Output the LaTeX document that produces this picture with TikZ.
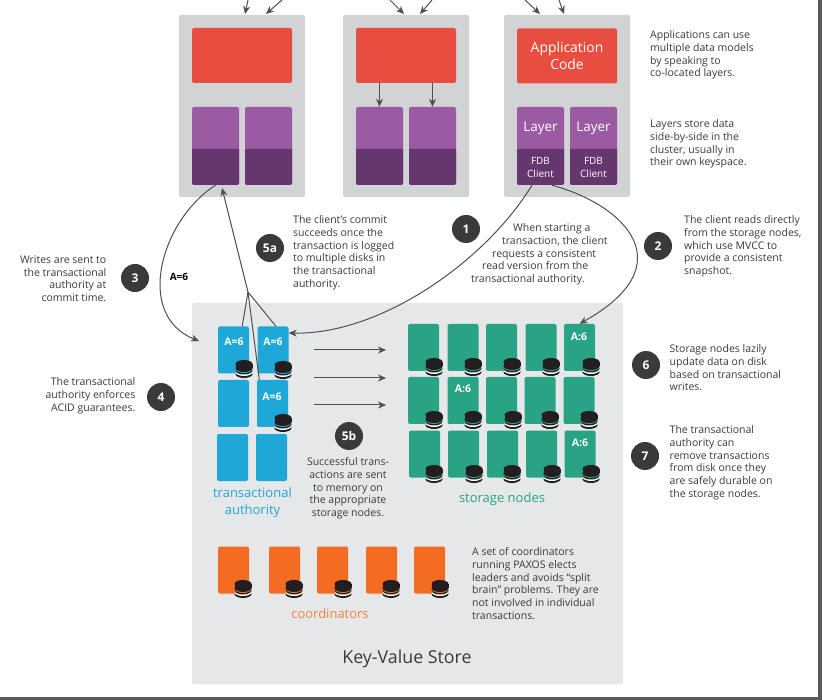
\documentclass[tikz,border=0pt]{standalone}
\usepackage{fontspec}
\setmainfont{Open Sans}
\usetikzlibrary{arrows.meta}
\definecolor{panelgray}{HTML}{D1D3D4}
\definecolor{storegray}{HTML}{E6E7E8}
\definecolor{appred}{HTML}{E84E40}
\definecolor{layerpurple}{HTML}{9A5BA3}
\definecolor{clientpurple}{HTML}{66376E}
\definecolor{authblue}{HTML}{1FA7D8}
\definecolor{storagegreen}{HTML}{28A386}
\definecolor{coordorange}{HTML}{F36C21}
\definecolor{inkgray}{HTML}{3A3A3C}
\definecolor{wiregray}{HTML}{4F5052}
\definecolor{diskblack}{HTML}{231F20}
\tikzset{
  panelbox/.style={fill=panelgray,rounded corners=1.5pt,minimum width=126pt,minimum height=182pt,inner sep=0pt},
  appbox/.style={fill=appred,rounded corners=2pt,minimum width=100pt,minimum height=55pt,inner sep=0pt,text=white,align=center,
    font=\fontsize{13.9}{17}\selectfont},
  layerbox/.style={fill=layerpurple,rounded corners=2pt,minimum width=47pt,minimum height=78pt,inner sep=0pt},
  clientbox/.style={inner sep=0pt,minimum width=47pt,minimum height=36pt,text=white,align=center,font=\fontsize{10}{12.7}\selectfont},
  layername/.style={inner sep=0pt,text=white,font=\fontsize{13.5}{16}\selectfont},
  servbox/.style={rounded corners=2pt,minimum width=31pt,minimum height=47pt,inner sep=0pt},
  valuelabel/.style={inner sep=0pt,text=white,font=\fontsize{10.5}{12}\selectfont\bfseries},
  badge/.style={circle,fill=inkgray,minimum size=28pt,inner sep=0pt,text=white,font=\fontsize{12}{14}\selectfont\bfseries},
  note/.style={inner sep=0pt,text=inkgray,font=\fontsize{10.5}{12.7}\selectfont},
  groupname/.style={inner sep=0pt,align=center,font=\fontsize{13}{17}\selectfont},
  wire/.style={draw=wiregray,line width=1pt},
  arrowwire/.style={wire,-{Stealth[length=8pt,width=7pt,inset=2.5pt]}},
  diskslab/.style={x radius=8.5pt,y radius=4pt}
}
% one stacked disk, colour of the middle band as argument
\newcommand{\diskat}[3]{
  \fill[diskblack] (#1,#2+5) ellipse[diskslab];
  \fill[white] (#1,#2+3) ellipse[diskslab];
  \fill[diskblack] (#1,#2+1.5) ellipse[diskslab];
  \fill[#3] (#1,#2) ellipse[diskslab];
  \fill[diskblack] (#1,#2-1) ellipse[diskslab];
  \fill[diskblack] (#1-8.5,#2-5) rectangle (#1+8.5,#2-1);
  \fill[diskblack] (#1,#2-5) ellipse[diskslab];
}
\begin{document}
\begin{tikzpicture}[x=1pt,y=-1pt]
  \useasboundingbox (0,0) rectangle (822,700);
  \fill[white] (0,0) rectangle (822,700);
  % frame of the screenshot
  \fill[black!65] (818,0) rectangle (822,700);
  \fill[black!65] (0,697) rectangle (822,700);

  % application machines
  \foreach \x/\n in {242/1,406/2,567/3} {
      \node[panelbox] (panel\n) at (\x,106) {};
    }
  \node[appbox] (app1) at (242,55.5) {};
  \node[appbox] (app2) at (406,55.5) {};
  \node[appbox] (app3) at (567,56) {Application\\Code};
  \foreach \x/\n in {215.5/1,268.5/2,379.5/3,432.5/4,540.5/5,593.5/6} {
      \node[layerbox] (layer\n) at (\x,146) {};
      \fill[clientpurple,rounded corners=2pt] (\x-23.5,149) [sharp corners] -- (\x+23.5,149) [rounded corners=2pt] -- (\x+23.5,185) -- (\x-23.5,185) [sharp corners] -- cycle;
      \node[clientbox] (client\n) at (\x,167) {};
    }
  \node[layername] at (540.5,128) {Layer};
  \node[layername] at (593.5,128) {Layer};
  \node[clientbox] at (540.5,167.5) {FDB\\Client};
  \node[clientbox] at (593.5,167.5) {FDB\\Client};

  % key-value store
  \node[fill=storegray,rounded corners=1.5pt,minimum width=431pt,minimum height=381pt,inner sep=0pt] (store) at (407.5,493.5) {};

  % transactional authority
  \foreach \x/\y/\n in {233.5/350/1,273/350/2,233.5/403.5/3,272.5/403.5/4,232.5/457.5/5,271.5/457.5/6} {
      \node[servbox,fill=authblue] (auth\n) at (\x,\y) {};
    }
  \foreach \x/\y in {244/369,283/370,283/423} {
      \diskat{\x}{\y}{authblue}
    }
  \node[valuelabel] at (234,342) {A=6};
  \node[valuelabel] at (273,342) {A=6};
  \node[valuelabel] at (272,397) {A=6};
  \node[groupname,text=authblue] at (252.5,502.5) {transactional\\authority};

  % storage nodes
  \foreach \x/\y/\n in {423.5/347.5/1,463/347.5/2,501.5/347.5/3,541/347.5/4,579.5/347.5/5,
                        423.5/400.5/6,463/400.5/7,501.5/400.5/8,540/400.5/9,579/400.5/10,
                        424.5/454/11,463.5/454/12,502.5/454/13,541.5/454/14,580/454/15} {
      \node[servbox,fill=storagegreen] (stor\n) at (\x,\y) {};
    }
  \foreach \x/\y in {434/367,473/367,512/367,551/367,591/367,
                     434/420,473/420,513/420,550/420,589/420,
                     434/474,474/474,512/474,552/474,591/474} {
      \diskat{\x}{\y}{storagegreen}
    }
  \node[valuelabel] at (579,337) {A:6};
  \node[valuelabel] at (463,389) {A:6};
  \node[valuelabel] at (580,443) {A:6};
  \node[groupname,text=storagegreen] at (502,499.5) {storage nodes};

  % coordinators
  \foreach \x/\n in {233.5/1,284.5/2,332.5/3,381.5/4,429.5/5} {
      \node[servbox,fill=coordorange] (coord\n) at (\x,570) {};
    }
  \foreach \x in {243,294,343,391,440} {
      \diskat{\x}{589}{coordorange}
    }
  \node[groupname,text=coordorange!85!white] at (330,613.5) {coordinators};
  \node[inner sep=0pt,text=inkgray,font=\fontsize{17.8}{21}\selectfont] at (407,658.5) {Key-Value Store};

  % free ends of the connectors
  \coordinate (in1a) at (248,0);
  \coordinate (in1b) at (282,0);
  \coordinate (in2a) at (390,0);
  \coordinate (in2b) at (432,0);
  \coordinate (in3a) at (525,0);
  \coordinate (in3b) at (559,0);
  \coordinate (top1a) at (245,14);
  \coordinate (top1b) at (266,14);
  \coordinate (top2a) at (404,14);
  \coordinate (top2b) at (420,14);
  \coordinate (top3a) at (540,14);
  \coordinate (top3b) at (564,14);
  \coordinate (logjoin) at (248,292);
  \coordinate (commitend) at (222,188);
  \coordinate (writeend) at (199,341);

  \draw[arrowwire] (in1a) -- (top1a);
  \draw[arrowwire] (in1b) -- (top1b);
  \draw[arrowwire] (in2a) -- (top2a);
  \draw[arrowwire] (in2b) -- (top2b);
  \draw[arrowwire] (in3a) -- (top3a);
  \draw[arrowwire] (in3b) -- (top3b);
  \draw[arrowwire] (layer3.north |- app2.south) -- (layer3.north);
  \draw[arrowwire] (layer4.north |- app2.south) -- (layer4.north);

  \draw[arrowwire] (client1.south) .. controls (161,220) and (134,315) .. (writeend);
  \draw[arrowwire] (logjoin) -- (commitend);
  \draw[wire] (auth1.north east) ++(-7,0) -- (logjoin);
  \draw[wire] (auth2.north) ++(3,0) -- (logjoin);
  \draw[wire] (auth4.north west) ++(2.5,0) -- (logjoin);
  \draw[arrowwire] ([xshift=-8.5pt]client5.south) .. controls (485,262) and (380,335) .. (auth2.east |- 0,333);
  \draw[arrowwire] ([xshift=11.5pt]client5.south) .. controls (625,205) and (685,265) .. (stor5.north);

  \foreach \y/\n in {350/a,378/b,405/c} {
      \coordinate (send\n) at (314,\y);
      \coordinate (recv\n) at (386,\y);
      \draw[arrowwire] (send\n) -- (recv\n);
    }

  % badges
  \node[badge] (step1) at (466,229) {1};
  \node[badge] (step2) at (658,246) {2};
  \node[badge] (step3) at (135,278) {3};
  \node[badge] (step4) at (161,397) {4};
  \node[badge] (step5a) at (270,248) {5a};
  \node[badge] (step5b) at (349,436) {5b};
  \node[badge] (step6) at (646,365) {6};
  \node[badge] (step7) at (645,456) {7};

  % notes
  \node[note,anchor=north west,align=left] (noteapps) at (650,30.5) {Applications can use\\multiple data models\\by speaking to\\co-located layers.};
  \node[note,anchor=north west,align=left] (notelayers) at (650,119.5) {Layers store data\\side-by-side in the\\cluster, usually in\\their own keyspace.};
  \node[note,anchor=north west,align=left] (notereads) at (684,215.5) {The client reads directly\\from the storage nodes,\\which use MVCC to\\provide a consistent\\snapshot.};
  \node[note,anchor=north west,align=left] (notestart) at (471,223.5) {\hspace*{42pt}When starting a\\\hspace*{31pt}transaction, the client\\\hspace*{21pt}requests a consistent\\\hspace*{11pt}read version from the\\transactional authority.};
  \node[note,anchor=north west,align=left] (notecommit) at (293,215.5) {The client’s commit\\succeeds once the\\transaction is logged\\to multiple disks in\\the transactional\\authority.};
  \node[note,anchor=north east,align=right] (notewrites) at (106.5,255.5) {Writes are sent to\\the transactional\\authority at\\commit time.};
  \node[note,anchor=north east,align=right] (noteacid) at (135.5,377.5) {The transactional\\authority enforces\\ACID guarantees.};
  \node[note,anchor=north,align=center] (notesent) at (348,457.5) {Successful trans-\\actions are sent\\to memory on\\the appropriate\\storage nodes.};
  \node[note,anchor=north west,align=left] (notelazy) at (669.5,344.5) {Storage nodes lazily\\update data on disk\\based on transactional\\writes.};
  \node[note,anchor=north west,align=left] (noteremove) at (669.5,425.5) {The transactional\\authority can\\remove transactions\\from disk once they\\are safely durable on\\the storage nodes.};
  \node[note,anchor=north west,align=left] (notepaxos) at (472,547.5) {A set of coordinators\\running PAXOS elects\\leaders and avoids “split\\brain” problems. They are\\not involved in individual\\transactions.};
  \node[inner sep=0pt,text=black,font=\fontsize{10}{12}\selectfont\bfseries] (writelabel) at (179,277) {A=6};
\end{tikzpicture}
\end{document}
